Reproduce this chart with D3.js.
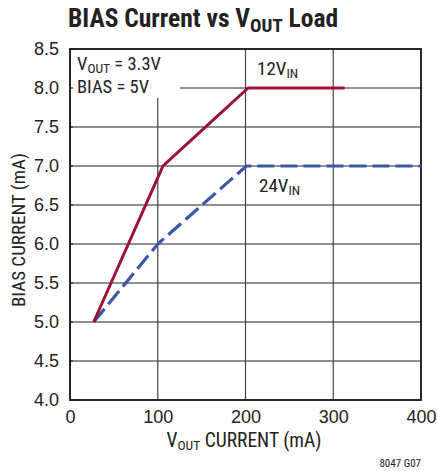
<!DOCTYPE html>
<html>
<head>
<meta charset="utf-8">
<script src="https://cdn.jsdelivr.net/npm/d3@7"></script>
<style>
body { margin:0; background:#fff; }
svg { font-family: "Liberation Sans Narrow", "Arial Narrow", "Roboto Condensed", "Liberation Sans", sans-serif; }
</style>
</head>
<body>
<div id="chart"></div>
<script>
// data
var xTicks = [0, 100, 200, 300, 400]
var yTicks = [4.0, 4.5, 5.0, 5.5, 6.0, 6.5, 7.0, 7.5, 8.0, 8.5]
var load12 = [27, 106, 203, 313]
var bias12 = [5.0, 7.0, 8.0, 8.0]
var load24 = [27, 100, 201, 400]
var bias24 = [5.0, 6.0, 7.0, 7.0]

var W = 437, H = 471
var margin = {top:49, right:16, bottom:71, left:70}
var width = W - margin.left - margin.right
var height = H - margin.top - margin.bottom

var svg = d3.select("#chart").append("svg")
    .attr("width", W).attr("height", H)

var g = svg.append("g")
    .attr("transform", "translate(" + margin.left + "," + margin.top + ")")

var x = d3.scaleLinear().domain([0, 400]).range([0, width])
var y = d3.scaleLinear().domain([4, 8.5]).range([height, 0])

// grid
g.append("g").attr("class", "ygrid")
  .selectAll("line").data(yTicks.slice(1, -1)).enter().append("line")
  .attr("x1", 0).attr("x2", width)
  .attr("y1", d=>y(d)).attr("y2", d=>y(d))
  .style("stroke", "#222").style("stroke-width", 1.2)

g.append("g").attr("class", "xgrid")
  .selectAll("line").data(xTicks.slice(1, -1)).enter().append("line")
  .attr("y1", 0).attr("y2", height)
  .attr("x1", d=>x(d)).attr("x2", d=>x(d))
  .style("stroke", "#444").style("stroke-width", 1.2)

// white box behind the conditions note
g.append("rect")
  .attr("x", 1).attr("y", 1)
  .attr("width", 109).attr("height", 48)
  .style("fill", "#fff")

// small inner ticks on left edge
g.selectAll(".ltick").data(yTicks).enter().append("line")
  .attr("x1", 0).attr("x2", 3)
  .attr("y1", d=>y(d)).attr("y2", d=>y(d))
  .style("stroke", "#222").style("stroke-width", 1.2)

// frame
g.append("rect")
  .attr("width", width).attr("height", height)
  .style("fill", "none").style("stroke", "#111").style("stroke-width", 1.8)

// axes labels
var yAxis = g.append("g").call(d3.axisLeft(y).tickValues(yTicks).tickSize(0).tickPadding(11).tickFormat(d3.format(".1f")))
yAxis.select(".domain").remove()
yAxis.selectAll("text").style("font-size", "18px").style("fill", "#222").style("font-family", null)

var xAxis = g.append("g").attr("transform", "translate(0," + height + ")")
  .call(d3.axisBottom(x).tickValues(xTicks).tickSize(0).tickPadding(10))
xAxis.select(".domain").remove()
xAxis.selectAll("text").style("font-size", "18px").style("fill", "#222").style("font-family", null)

// series
var line = d3.line().x(d=>x(d[0])).y(d=>y(d[1]))

g.append("path")
  .datum(d3.zip(load24, bias24))
  .attr("d", line)
  .style("fill", "none").style("stroke", "#3a58a6").style("stroke-width", 3.2)
  .style("stroke-dasharray", "17,6")

g.append("path")
  .datum(d3.zip(load12, bias12))
  .attr("d", line)
  .style("fill", "none").style("stroke", "#9c1236").style("stroke-width", 3)

// title
var title = svg.append("text").attr("x", 68).attr("y", 27)
  .style("font-size", "25.5px").style("font-weight", "bold").style("fill", "#222")
title.append("tspan").text("BIAS Current vs V")
title.append("tspan").attr("dy", 5).style("font-size", "19px").text("OUT")
title.append("tspan").attr("dy", -5).text(" Load")

function sub(sel, main, s, after) {
  sel.append("tspan").text(main)
  sel.append("tspan").attr("dy", 3).style("font-size", "13.5px").text(s)
  if (after) sel.append("tspan").attr("dy", -3).text(after)
}

// notes
var n1 = svg.append("text").attr("x", 77).attr("y", 70).style("font-size", "18.5px").style("fill", "#222")
sub(n1, "V", "OUT", " = 3.3V")
svg.append("text").attr("x", 77).attr("y", 93).style("font-size", "18.5px").style("fill", "#222").text("BIAS = 5V")

var l12 = svg.append("text").attr("x", 257).attr("y", 75).style("font-size", "19px").style("fill", "#222")
sub(l12, "12V", "IN")
var l24 = svg.append("text").attr("x", 259).attr("y", 192).style("font-size", "19px").style("fill", "#222")
sub(l24, "24V", "IN")

// axis titles
svg.append("text")
  .attr("transform", "translate(25,230) rotate(-90)")
  .attr("text-anchor", "middle")
  .style("font-size", "19px").style("fill", "#222")
  .text("BIAS CURRENT (mA)")

var xt = svg.append("text").attr("x", 244).attr("y", 447).attr("text-anchor", "middle")
  .style("font-size", "19.5px").style("fill", "#222")
sub(xt, "V", "OUT", " CURRENT (mA)")

svg.append("text").attr("x", 421).attr("y", 467).attr("text-anchor", "end")
  .style("font-size", "11px").style("fill", "#222").text("8047 G07")
</script>
</body>
</html>
